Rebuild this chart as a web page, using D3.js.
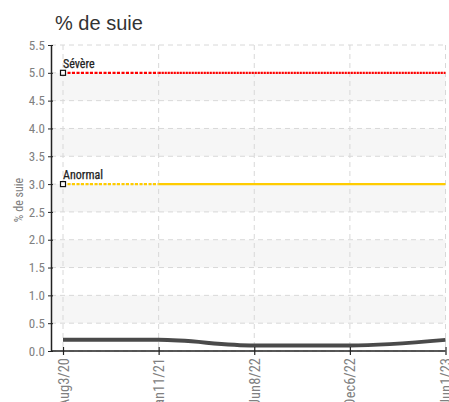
<!DOCTYPE html>
<html><head><meta charset="utf-8">
<script src="https://cdn.jsdelivr.net/npm/d3@7"></script>
<style>
body{margin:0;background:#fff;}
svg{display:block;}
.cond{font-family:"Liberation Sans Narrow","Roboto Condensed","Arial Narrow",sans-serif;font-stretch:condensed;}
</style></head>
<body>
<svg id="c" width="449" height="402"></svg>
<script>
const categories = ["Aug3/20","Jan11/21","Jun8/22","Dec6/22","Jun1/23"];
const soot = [0.2, 0.2, 0.1, 0.1, 0.2];
const yTicks = [0.0,0.5,1.0,1.5,2.0,2.5,3.0,3.5,4.0,4.5,5.0,5.5];
const thresholds = [{label:"Sévère", value:5.0, color:"#ff0000"},{label:"Anormal", value:3.0, color:"#ffcc00"}];
const title = "% de suie";
const yLabel = "% de suie";

const svg = d3.select("#c");
const x = d3.scalePoint().domain(categories).range([63, 445.5]);
const y = d3.scaleLinear().domain([0,5.5]).range([351, 45]);

// bands
for (let i=0;i<yTicks.length-1;i++){
  if (i%2===1){
    svg.append("rect").attr("x",51).attr("width",445.5-51)
      .attr("y",y(yTicks[i+1])).attr("height",y(yTicks[i])-y(yTicks[i+1]))
      .attr("fill","#f6f6f6");
  }
}
// grid
const g = svg.append("g");
yTicks.forEach(t=>{
  g.append("line").attr("x1",51).attr("x2",445.5).attr("y1",y(t)).attr("y2",y(t))
   .attr("stroke","#d8d8d8").attr("stroke-dasharray","5,4");
});
categories.forEach(c=>{
  g.append("line").attr("x1",x(c)).attr("x2",x(c)).attr("y1",45).attr("y2",351)
   .attr("stroke","#d8d8d8").attr("stroke-dasharray","5,4");
});

// thresholds
thresholds.forEach((th,k)=>{
  const yy = y(th.value);
  svg.append("line").attr("x1",x(categories[0])).attr("x2",x(categories[1])).attr("y1",yy).attr("y2",yy)
    .attr("stroke",th.color).attr("stroke-width",2.2).attr("stroke-dasharray","3,1.5");
  svg.append("line").attr("x1",x(categories[1])).attr("x2",x(categories[categories.length-1])).attr("y1",yy).attr("y2",yy)
    .attr("stroke",th.color).attr("stroke-width",2.2).attr("stroke-dasharray", k===0?"2.2,0.8":null);
  svg.append("rect").attr("x",x(categories[0])-2.5).attr("y",yy-2.5).attr("width",5).attr("height",5)
    .attr("fill","#fff").attr("stroke","#111").attr("stroke-width",1.2);
  svg.append("text").attr("class","cond").attr("x",x(categories[0])).attr("y",yy-5)
    .attr("font-size",12).attr("fill","#222").attr("stroke","#222").attr("stroke-width",0.25).text(th.label);
});

// data line
const line = d3.line().x((d,i)=>x(categories[i])).y(d=>y(d)).curve(d3.curveMonotoneX);
svg.append("path").datum(soot).attr("d",line).attr("fill","none")
  .attr("stroke","#4a4a4a").attr("stroke-width",4);

// axes
const ya = svg.append("g").attr("transform","translate(51,0)")
  .call(d3.axisLeft(y).tickValues(yTicks).tickFormat(d3.format(".1f")).tickSizeInner(3).tickSizeOuter(0));
ya.selectAll(".tick line").attr("x2",2).attr("x1",-3).attr("stroke","#222");
ya.select(".domain").attr("stroke","#222").attr("stroke-width",1.5);
ya.selectAll("text").attr("class","cond").attr("font-size",13).attr("fill","#808080").attr("x",-6);

const xa = svg.append("g").attr("transform","translate(0,351)")
  .call(d3.axisBottom(x).tickSizeInner(4).tickSizeOuter(0));
xa.select(".domain").attr("stroke","#222").attr("stroke-width",1.5).attr("d","M51,0H445.5");
xa.selectAll(".tick line").attr("y1",-4).attr("y2",4).attr("stroke","#222").attr("stroke-width",1.2);
xa.selectAll("text").attr("class","cond").attr("font-size",14.5).attr("fill","#808080")
  .attr("transform","rotate(-90)").attr("text-anchor","end").attr("x",-7).attr("y",0).attr("dy","0.35em");

// title
svg.append("text").attr("x",55).attr("y",30).attr("font-family","Liberation Sans, Arial, sans-serif")
  .attr("font-size",20).attr("fill","#333").text(title);
// y label
svg.append("text").attr("class","cond").attr("transform","translate(23,200) rotate(-90)")
  .attr("text-anchor","middle").attr("font-size",12).attr("fill","#808080").text(yLabel);
</script>
</body></html>
